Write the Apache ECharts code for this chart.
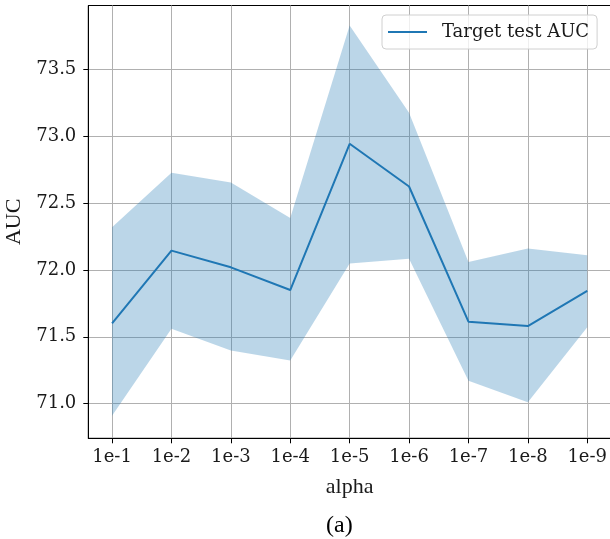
<!DOCTYPE html>
<html>
<head>
<meta charset="utf-8">
<script src="https://cdn.jsdelivr.net/npm/echarts@6/dist/echarts.min.js"></script>
<style>html,body{margin:0;padding:0;background:#fff;}#c{width:610px;height:539px;}</style>
</head>
<body>
<div id="c"></div>
<script>
const categories = ['1e-1','1e-2','1e-3','1e-4','1e-5','1e-6','1e-7','1e-8','1e-9'];
const meanAUC  = [71.60, 72.145, 72.02, 71.85, 72.945, 72.625, 71.613, 71.58, 71.843];
const upperAUC = [72.32, 72.728, 72.655, 72.39, 73.83, 73.178, 72.06, 72.16, 72.11];
const lowerAUC = [70.908, 71.56, 71.397, 71.322, 72.048, 72.085, 71.17, 71.01, 71.572];
const yTicks = [71.0, 71.5, 72.0, 72.5, 73.0, 73.5];
const xTicks = categories.map((c, i) => i);

const chart = echarts.init(document.getElementById('c'), null, {renderer: 'canvas'});
const tickFont = {fontFamily: 'DejaVu Serif', fontSize: 18, color: '#1a1a1a'};
chart.setOption({
  animation: false,
  backgroundColor: '#fff',
  grid: {left: 88.3, top: 5.5, right: -1, bottom: 100.7, containLabel: false, outerBoundsMode: 'none',
         show: true, borderColor: '#000', borderWidth: 1, backgroundColor: 'transparent'},
  legend: {
    data: ['Target test AUC'],
    left: 382, top: 15,
    icon: 'rect', itemWidth: 39, itemHeight: 2,
    padding: [8, 8, 8, 6],
    backgroundColor: 'rgba(255,255,255,0.8)',
    borderColor: '#d0d0d0', borderWidth: 1, borderRadius: 4,
    textStyle: {fontFamily: 'DejaVu Serif', fontSize: 18, color: '#1a1a1a', padding: [0, 0, 0, 10]}
  },
  xAxis: {
    type: 'value', min: -0.4, max: 8.4,
    name: 'alpha', nameLocation: 'middle', nameGap: 38,
    nameTextStyle: {fontFamily: 'Liberation Serif', fontSize: 22, color: '#1a1a1a'},
    axisLine: {show: true, onZero: false, lineStyle: {color: '#000', width: 1}},
    axisTick: {show: true, length: 5, customValues: xTicks, lineStyle: {color: '#000'}},
    axisLabel: Object.assign({customValues: xTicks, margin: 10, formatter: v => categories[Math.round(v)]}, tickFont),
    splitLine: {show: true, lineStyle: {color: '#b0b0b0', width: 1}}
  },
  yAxis: {
    type: 'value', min: 70.74, max: 73.98,
    name: 'AUC', nameLocation: 'middle', nameGap: 56,
    nameTextStyle: {fontFamily: 'Liberation Serif', fontSize: 22, color: '#1a1a1a'},
    axisLine: {show: true, onZero: false, lineStyle: {color: '#000', width: 1}},
    axisTick: {show: true, length: 5, customValues: yTicks, lineStyle: {color: '#000'}},
    axisLabel: Object.assign({customValues: yTicks, margin: 12, formatter: v => v.toFixed(1)}, tickFont),
    splitLine: {show: true, lineStyle: {color: '#b0b0b0', width: 1}}
  },
  series: [
    {name: 'band', type: 'custom', silent: true, data: [[0, lowerAUC[0]]],
     renderItem: function (params, api) {
       const pts = [];
       for (let i = 0; i < upperAUC.length; i++) pts.push(api.coord([i, upperAUC[i]]));
       for (let i = lowerAUC.length - 1; i >= 0; i--) pts.push(api.coord([i, lowerAUC[i]]));
       return {type: 'polygon', shape: {points: pts}, style: {fill: 'rgba(31,119,180,0.3)', stroke: 'none'}};
     }},
    {name: 'Target test AUC', type: 'line', symbol: 'none', itemStyle: {color: '#1f77b4'},
     lineStyle: {color: '#1f77b4', width: 2}, data: meanAUC.map((v, i) => [i, v])}
  ],
  graphic: [{type: 'text', left: 326, top: 514, style: {text: '(a)', fontFamily: 'Liberation Serif', fontSize: 24, fill: '#000'}}]
});
</script>
</body>
</html>
